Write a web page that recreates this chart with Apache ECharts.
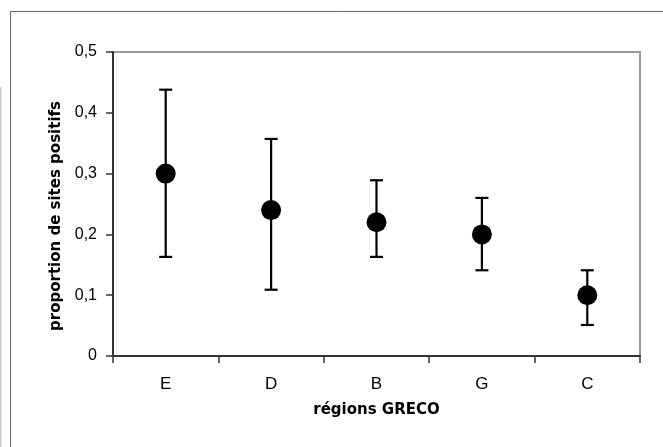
<!DOCTYPE html>
<html>
<head>
<meta charset="utf-8">
<script src="https://cdn.jsdelivr.net/npm/echarts@6/dist/echarts.min.js"></script>
<style>
html,body{margin:0;padding:0;background:#fff;}
#c{width:663px;height:447px;}
</style>
</head>
<body>
<div id="c"></div>
<script>
var categories = ['E', 'D', 'B', 'G', 'C'];
var proportions = [0.30, 0.24, 0.22, 0.20, 0.10];
var lowerBounds = [0.163, 0.109, 0.163, 0.141, 0.051];
var upperBounds = [0.438, 0.357, 0.289, 0.260, 0.141];
var yTicks = [0, 0.1, 0.2, 0.3, 0.4, 0.5];

var chart = echarts.init(document.getElementById('c'), null, {renderer: 'canvas'});

var errData = categories.map(function (c, i) { return [i, lowerBounds[i], upperBounds[i]]; });
var ptData = categories.map(function (c, i) { return [i, proportions[i]]; });

var option = {
  backgroundColor: '#fff',
  animation: false,
  grid: {
    left: 113, right: 23, top: 52, bottom: 91,
    show: true, borderColor: '#9a9a9a', borderWidth: 2, backgroundColor: '#fff'
  },
  xAxis: {
    type: 'category',
    data: categories,
    boundaryGap: true,
    name: 'régions GRECO',
    nameLocation: 'middle',
    nameGap: 47,
    nameTextStyle: {fontFamily: 'DejaVu Sans', fontWeight: 'bold', fontSize: 15, color: '#000'},
    axisLine: {show: true, lineStyle: {color: '#333', width: 2}},
    axisTick: {show: true, length: 7, interval: 0, alignWithLabel: false, lineStyle: {color: '#333', width: 1.5}},
    axisLabel: {margin: 20, fontFamily: 'Liberation Sans', fontSize: 17, color: '#000', interval: 0},
    splitLine: {show: false},
    z: 5
  },
  yAxis: {
    type: 'value',
    min: yTicks[0],
    max: yTicks[yTicks.length - 1],
    interval: 0.1,
    axisLine: {show: true, lineStyle: {color: '#333', width: 2}},
    axisTick: {show: true, length: 7, lineStyle: {color: '#333', width: 1.5}},
    axisLabel: {
      margin: 16, fontFamily: 'Liberation Sans', fontSize: 16, color: '#000',
      formatter: function (v) { return v === 0 ? '0' : v.toFixed(1).replace('.', ','); }
    },
    splitLine: {show: false},
    z: 5
  },
  graphic: [
    {type: 'rect', shape: {x: 10.5, y: 11.5, width: 700, height: 500}, style: {fill: 'none', stroke: '#666', lineWidth: 1}, silent: true, z: -1},
    {type: 'line', shape: {x1: 0.5, y1: 87, x2: 0.5, y2: 447}, style: {stroke: '#c8c8c8', lineWidth: 2}, silent: true},
    {type: 'text', x: 56, y: 216, rotation: Math.PI / 2,
      style: {text: 'proportion de sites positifs', font: 'bold 15px "DejaVu Sans"', fill: '#000', textAlign: 'center', textVerticalAlign: 'middle'}}
  ],
  series: [
    {
      type: 'custom',
      data: errData,
      z: 3,
      renderItem: function (params, api) {
        var x = api.value(0);
        var lo = api.coord([x, api.value(1)]);
        var hi = api.coord([x, api.value(2)]);
        var hw = 6.5;
        var st = {stroke: '#000', lineWidth: 2.2, fill: 'none'};
        return {
          type: 'group',
          children: [
            {type: 'line', shape: {x1: lo[0], y1: lo[1], x2: hi[0], y2: hi[1]}, style: st},
            {type: 'line', shape: {x1: lo[0] - hw, y1: lo[1], x2: lo[0] + hw, y2: lo[1]}, style: st},
            {type: 'line', shape: {x1: hi[0] - hw, y1: hi[1], x2: hi[0] + hw, y2: hi[1]}, style: st}
          ]
        };
      }
    },
    {
      type: 'scatter',
      data: ptData,
      symbol: 'circle',
      symbolSize: 20,
      itemStyle: {color: '#000', opacity: 1},
      z: 4
    }
  ]
};
chart.setOption(option);
</script>
</body>
</html>
